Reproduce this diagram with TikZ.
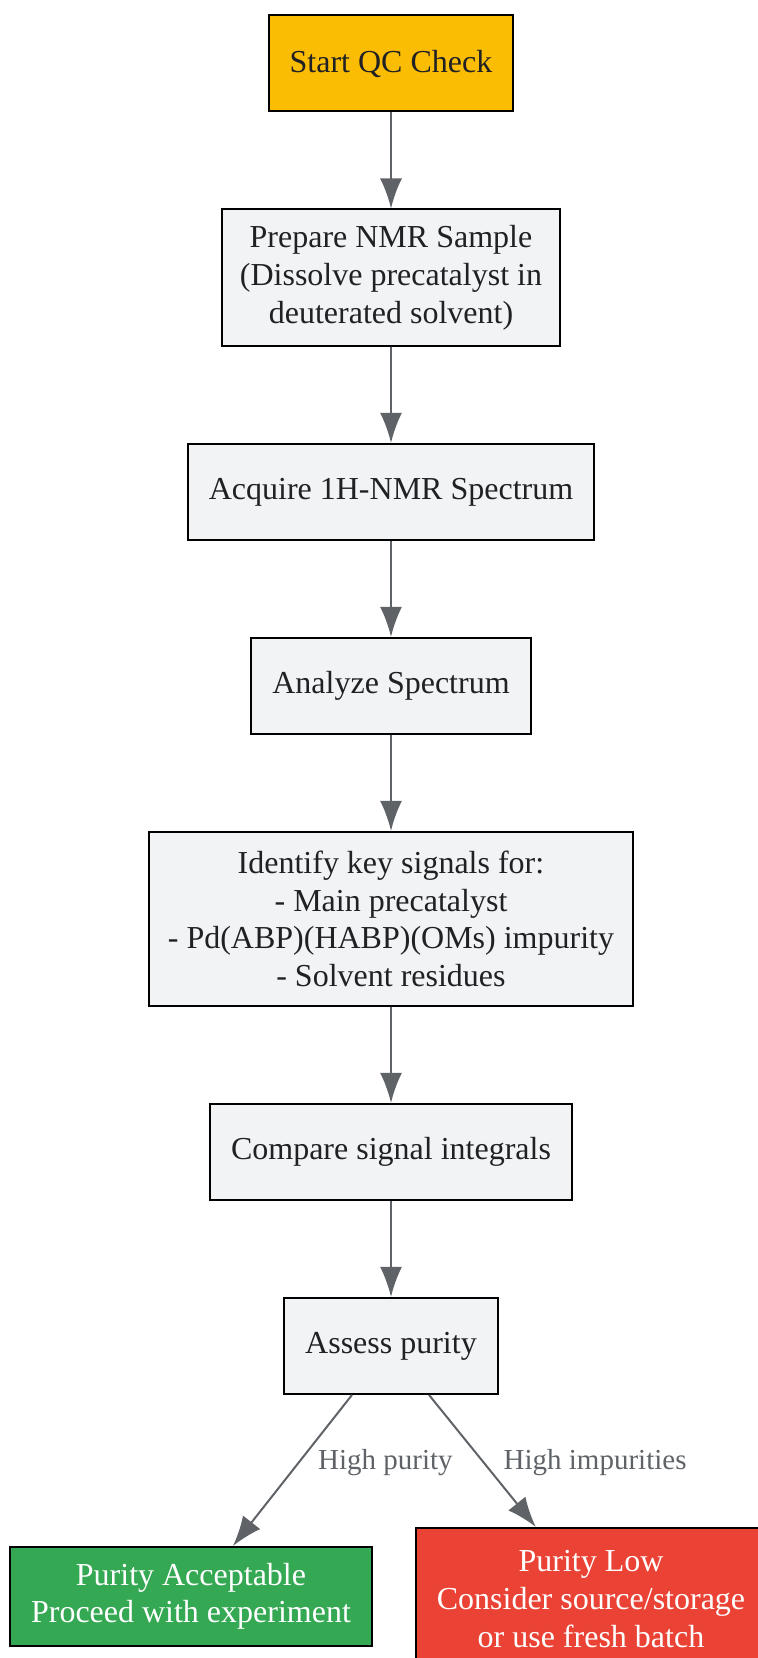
\documentclass[tikz,border=0pt]{standalone}
\usepackage{fontspec}
\setmainfont{Liberation Serif}
\usetikzlibrary{positioning,arrows.meta}
\definecolor{qcyellow}{HTML}{FBBC04}
\definecolor{qcgray}{HTML}{F1F3F4}
\definecolor{qcgreen}{HTML}{34A853}
\definecolor{qcred}{HTML}{EA4335}
\definecolor{qcline}{HTML}{5F6368}
\definecolor{qctext}{HTML}{202124}
\tikzstyle{block} = [rectangle, draw=black, line width=1pt, fill=qcgray, 
    text=qctext, align=center, minimum height=48pt, inner xsep=10.5pt, 
    inner ysep=8pt, font=\fontsize{16}{18.85}\selectfont]
\tikzstyle{start} = [block, fill=qcyellow]
\tikzstyle{good} = [block, fill=qcgreen, text=white]
\tikzstyle{bad} = [block, fill=qcred, text=white]
\tikzstyle{line} = [draw=qcline, line width=1pt, -{Latex[length=15pt,width=11pt]}]
\tikzstyle{lbl} = [text=qcline, font=\fontsize{14.5}{17}\selectfont]

\begin{document}
\begin{tikzpicture}[node distance = 48pt]
    \useasboundingbox (0,0) rectangle (379pt,-829pt);
    \node[start] (init) at (195.5pt,-31.75pt) {Start QC Check};
    \node[block, below=of init, inner xsep=9pt] (1) {Prepare NMR Sample\\(Dissolve precatalyst in\\deuterated solvent)};
    \node[block, below=of 1] (2) {Acquire 1H-NMR Spectrum};
    \node[block, below=of 2] (3) {Analyze Spectrum};
    \node[block, below=of 3, minimum height=87pt, inner xsep=9.5pt] (4) {Identify key signals for:\\- Main precatalyst\\- Pd(ABP)(HABP)(OMs) impurity\\- Solvent residues};
    \node[block, below=of 4] (5) {Compare signal integrals};
    \node[block, below=of 5] (6) {Assess purity};
    \node[good, below=75.5pt of 6, xshift=-100pt] (7) {Purity Acceptable\\Proceed with experiment};
    \node[bad, below=66pt of 6, xshift=100pt, minimum height=71pt] (8) {Purity Low\\Consider source/storage\\or use fresh batch};

    \path[line] (init) -- (1);
    \path[line] (1) -- (2);
    \path[line] (2) -- (3);
    \path[line] (3) -- (4);
    \path[line] (4) -- (5);
    \path[line] (5) -- (6);
    \path[line] ([xshift=-19.5pt]6.south) -- node[lbl, pos=0.45, right=6pt] {High purity} ([xshift=21pt]7.north);
    \path[line] ([xshift=19pt]6.south) -- node[lbl, pos=0.515, right=6pt] {High impurities} ([xshift=-27.6pt]8.north);
\end{tikzpicture}
\end{document}
